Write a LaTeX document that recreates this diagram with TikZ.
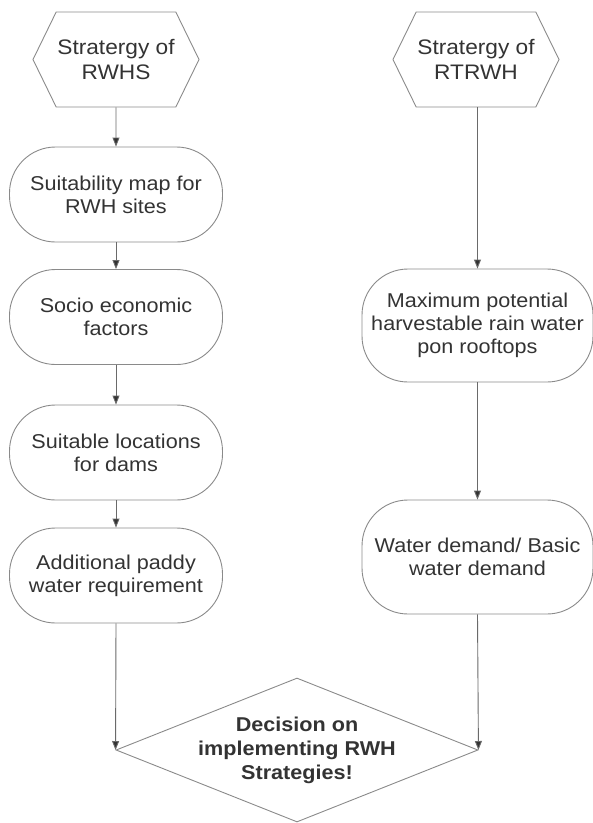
\documentclass[tikz,border=0pt]{standalone}
\usepackage{fontspec}
\setmainfont{Liberation Sans}[FakeStretch=1.08]
\usetikzlibrary{arrows.meta,positioning,shapes.geometric,shapes.symbols}

\definecolor{linegray}{HTML}{6A6A6A}
\definecolor{boxgray}{HTML}{8A8A8A}
\definecolor{textgray}{HTML}{333333}

\begin{document}
\begin{tikzpicture}[x=1pt,y=-1pt]
		\tikzstyle{strategy}=[signal,signal to=west and east,signal pointer angle=128,draw=boxgray,line width=0.9pt,minimum width=166pt,minimum height=95pt,inner sep=0pt,align=center,text=textgray,font=\fontsize{21}{25}\selectfont]
		\tikzstyle{process}=[rectangle,rounded corners=46pt,draw=boxgray,line width=0.9pt,inner sep=0pt,align=center,text=textgray,font=\fontsize{20}{23}\selectfont]
		\tikzstyle{decision}=[diamond,aspect=2.5,draw=boxgray,line width=0.9pt,minimum width=362pt,minimum height=144pt,inner sep=-3pt,align=center,text=textgray,font=\bfseries\fontsize{20}{24}\selectfont]
		\tikzstyle{flow}=[linegray,line width=0.9pt,arrows={-Triangle[length=9pt,width=7pt,fill=textgray]}]
		
		\useasboundingbox (0,0) rectangle (593,823);
		
		% left branch
		\node[strategy] (rwhs) at (116,59.5) {Stratergy of\\RWHS};
		\node[process,minimum width=213pt,minimum height=95pt] (suitmap) at (116,194.5) {Suitability map for\\RWH sites};
		\node[process,minimum width=213pt,minimum height=95pt] (socio) at (116,317) {Socio economic\\factors};
		\node[process,minimum width=213pt,minimum height=95pt] (dams) at (116,452.5) {Suitable locations\\for dams};
		\node[process,minimum width=213pt,minimum height=95pt] (paddy) at (116,575.5) {Additional paddy\\water requirement};
		
		% right branch
		\node[strategy] (rtrwh) at (476,59.5) {Stratergy of\\RTRWH};
		\node[process,minimum width=231pt,minimum height=113pt] (harvest) at (477.5,325.5) {Maximum potential\\harvestable rain water\\pon rooftops};
		\node[process,minimum width=231pt,minimum height=114pt] (demand) at (477.5,557) {Water demand/ Basic\\water demand};
		
		\node[decision] (decide) at (297,750) {Decision on\\implementing RWH\\Strategies!};
		
		\draw[flow] (rwhs) -- (suitmap);
		\draw[flow] (suitmap) -- (socio);
		\draw[flow] (socio) -- (dams);
		\draw[flow] (dams) -- (paddy);
		\draw[flow] (paddy.south) -- (decide.west);
		\draw[flow] (rtrwh.south -| harvest.north) -- (harvest.north);
		\draw[flow] (harvest) -- (demand);
		\draw[flow] (demand.south) -- (decide.east);
		\end{tikzpicture}
\end{document}
